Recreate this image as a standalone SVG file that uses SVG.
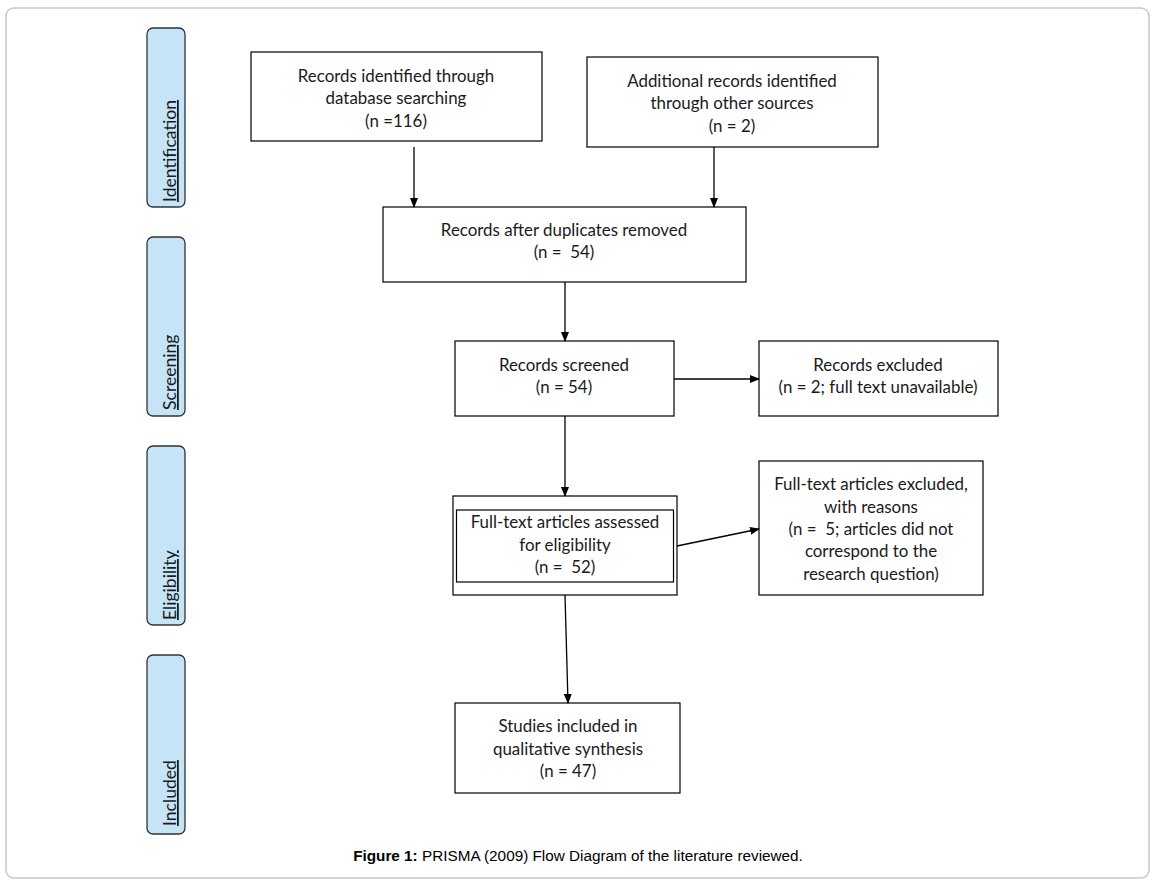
<svg xmlns="http://www.w3.org/2000/svg" width="1155" height="881" viewBox="0 0 1155 881">
<defs>
<style>
.box{fill:#fff;stroke:#000;stroke-width:1.2}
.bar{fill:#c6e4f7;stroke:#333;stroke-width:1.3}
.t{font-family:Lato,"Open Sans","Noto Sans",sans-serif;font-size:16.9px;fill:#1a1a1a;text-anchor:middle}
.side{font-family:Lato,"Open Sans","Noto Sans",sans-serif;font-size:17.6px;fill:#1a1a1a;text-decoration:underline}
.c{stroke:#000;stroke-width:1.3;fill:none;marker-end:url(#ah)}
.cap{font-family:"Liberation Sans",Arial,sans-serif;font-size:15.3px;fill:#000;text-anchor:middle}
</style>
<marker id="ah" markerWidth="10" markerHeight="10" refX="9" refY="5" orient="auto" markerUnits="userSpaceOnUse">
<path d="M0,1 L10,5 L0,9 Z" fill="#000"/>
</marker>
</defs>
<rect width="1155" height="881" fill="#fff"/>
<rect x="6" y="8" width="1143" height="870" rx="8" fill="#fff" stroke="#c8c8c8" stroke-width="1.5"/>

<g id="phase-identification"><rect class="bar" x="147" y="28" width="38" height="179" rx="6"/><text class="side" transform="translate(176,202) rotate(-90)">Identification</text></g>
<g id="phase-screening"><rect class="bar" x="147" y="237" width="38" height="179" rx="6"/><text class="side" transform="translate(176,410) rotate(-90)">Screening</text></g>
<g id="phase-eligibility"><rect class="bar" x="147" y="446" width="38" height="179" rx="6"/><text class="side" transform="translate(176,620) rotate(-90)">Eligibility</text></g>
<g id="phase-included"><rect class="bar" x="147" y="655" width="38" height="179" rx="6"/><text class="side" transform="translate(176,826) rotate(-90)">Included</text></g>

<g id="n-db"><rect class="box" x="251" y="52" width="291" height="89"/>
<text class="t" x="396" y="82">Records identified through</text>
<text class="t" x="396" y="104">database searching</text>
<text class="t" x="396" y="127">(n =116)</text></g>

<g id="n-other"><rect class="box" x="587" y="57" width="291" height="90"/>
<text class="t" x="732" y="87">Additional records identified</text>
<text class="t" x="732" y="109">through other sources</text>
<text class="t" x="732" y="132">(n = 2)</text></g>

<g id="n-dup"><rect class="box" x="383" y="207" width="363" height="75"/>
<text class="t" x="564" y="236">Records after duplicates removed</text>
<text class="t" x="564" y="258" xml:space="preserve">(n =  54)</text></g>

<g id="n-screened"><rect class="box" x="455" y="341" width="219" height="75"/>
<text class="t" x="564" y="371">Records screened</text>
<text class="t" x="564" y="393">(n = 54)</text></g>

<g id="n-excluded"><rect class="box" x="759" y="341" width="239" height="75"/>
<text class="t" x="878" y="371">Records excluded</text>
<text class="t" x="878" y="393">(n = 2; full text unavailable)</text></g>

<g id="n-fulltext"><rect class="box" x="453" y="496" width="224" height="99"/>
<rect class="box" x="456.5" y="510" width="217" height="72"/>
<text class="t" x="565" y="528">Full-text articles assessed</text>
<text class="t" x="565" y="551">for eligibility</text>
<text class="t" x="565" y="573" xml:space="preserve">(n =  52)</text></g>

<g id="n-ftexcl"><rect class="box" x="759" y="461" width="224" height="134"/>
<text class="t" x="871" y="490">Full-text articles excluded,</text>
<text class="t" x="871" y="513">with reasons</text>
<text class="t" x="871" y="535" xml:space="preserve">(n =  5; articles did not</text>
<text class="t" x="871" y="557">correspond to the</text>
<text class="t" x="871" y="580">research question)</text></g>

<g id="n-included"><rect class="box" x="455" y="703" width="225" height="90"/>
<text class="t" x="568" y="732">Studies included in</text>
<text class="t" x="568" y="755">qualitative synthesis</text>
<text class="t" x="568" y="777">(n = 47)</text></g>

<g id="connectors">
<line class="c" x1="414" y1="147" x2="414" y2="207"/>
<line class="c" x1="714" y1="147" x2="714" y2="207"/>
<line class="c" x1="565" y1="282" x2="565" y2="341"/>
<line class="c" x1="674" y1="379" x2="759" y2="379"/>
<line class="c" x1="565" y1="416" x2="565" y2="496"/>
<line class="c" x1="677" y1="546" x2="759" y2="529"/>
<line class="c" x1="565" y1="595" x2="568" y2="703"/>
</g>

<text class="cap" x="578" y="861"><tspan font-weight="bold">Figure 1:</tspan> PRISMA (2009) Flow Diagram of the literature reviewed.</text>
</svg>
